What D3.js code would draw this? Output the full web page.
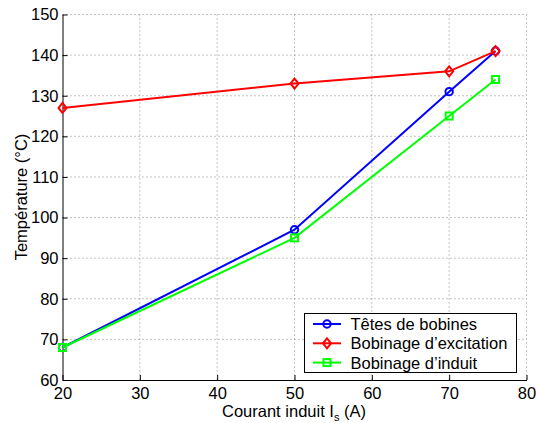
<!DOCTYPE html>
<html><head><meta charset="utf-8">
<script src="https://cdn.jsdelivr.net/npm/d3@7"></script>
<style>body{margin:0;background:#fff;} text{font-family:"Liberation Sans",Arial,Helvetica,sans-serif;}</style>
</head><body>
<svg id="c" width="537" height="423"></svg>
<script>
const xValues = [20, 50, 70, 76];
const tetes = [68, 97, 131, 141];
const excitation = [127, 133, 136, 141];
const induit = [68, 95, 125, 134];
const seriesNames = ["Têtes de bobines", "Bobinage d\u2019excitation", "Bobinage d\u2019induit"];
const seriesColors = ["#0000ff", "#ff0000", "#00ff00"];
const xTicks = [20, 30, 40, 50, 60, 70, 80];
const yTicks = [60, 70, 80, 90, 100, 110, 120, 130, 140, 150];

const svg = d3.select("#c");
const L = 62.5, R = 526.5, T = 14.5, B = 380;
const x = d3.scaleLinear().domain([20, 80]).range([L, R]);
const y = d3.scaleLinear().domain([60, 150]).range([B, T]);

// grid
const g = svg.append("g");
g.selectAll(".gx").data(xTicks.slice(1)).enter().append("line")
  .attr("x1", d => x(d)).attr("x2", d => x(d)).attr("y1", T).attr("y2", B)
  .attr("stroke", "#888").attr("stroke-width", 1).attr("stroke-dasharray", "1,3");
g.selectAll(".gy").data(yTicks.slice(1)).enter().append("line")
  .attr("x1", L).attr("x2", R).attr("y1", d => y(d)).attr("y2", d => y(d))
  .attr("stroke", "#888").attr("stroke-width", 1).attr("stroke-dasharray", "1,3");

// axes
const xAxis = d3.axisBottom(x).tickValues(xTicks).tickSizeInner(-5).tickSizeOuter(0).tickPadding(7);
const yAxis = d3.axisLeft(y).tickValues(yTicks).tickSizeInner(-5).tickSizeOuter(0).tickPadding(4);
const gx = svg.append("g").attr("transform", `translate(0,${B})`).call(xAxis);
const gy = svg.append("g").attr("transform", `translate(${L},0)`).call(yAxis);
[gx, gy].forEach(a => {
  a.select(".domain").attr("stroke", "#000").attr("stroke-width", 1);
  a.selectAll(".tick line").attr("stroke", "#000");
  a.selectAll(".tick text").attr("font-size", 16.5).attr("fill", "#000")
   .style("font-family", '"Liberation Sans",Arial,sans-serif');
});

// series
const data = [tetes, excitation, induit];
const markers = ["circle", "diamond", "square"];
function marker(sel, type, color, cx, cy) {
  if (type === "circle") sel.append("circle").attr("cx", cx).attr("cy", cy).attr("r", 3.7)
    .attr("fill", "none").attr("stroke", color).attr("stroke-width", 2);
  else if (type === "diamond") sel.append("path")
    .attr("d", `M${cx},${cy-5}L${cx+4},${cy}L${cx},${cy+5}L${cx-4},${cy}Z`)
    .attr("fill", "none").attr("stroke", color).attr("stroke-width", 2);
  else sel.append("rect").attr("x", cx - 3.5).attr("y", cy - 3.5).attr("width", 7).attr("height", 7)
    .attr("fill", "none").attr("stroke", color).attr("stroke-width", 2);
}
const line = d3.line().x(d => x(d[0])).y(d => y(d[1]));
data.forEach((vals, i) => {
  const pts = xValues.map((xv, j) => [xv, vals[j]]);
  svg.append("path").datum(pts).attr("d", line).attr("fill", "none")
    .attr("stroke", seriesColors[i]).attr("stroke-width", 2);
  const mg = svg.append("g");
  pts.forEach(p => marker(mg, markers[i], seriesColors[i], x(p[0]), y(p[1])));
});

// legend
const lg = svg.append("g");
lg.append("rect").attr("x", 304.5).attr("y", 313.5).attr("width", 212).attr("height", 59)
  .attr("fill", "#fff").attr("stroke", "#000").attr("stroke-width", 1);
seriesNames.forEach((n, i) => {
  const yy = 324 + i * 19.3;
  lg.append("line").attr("x1", 313).attr("x2", 341).attr("y1", yy).attr("y2", yy)
    .attr("stroke", seriesColors[i]).attr("stroke-width", 2);
  marker(lg, markers[i], seriesColors[i], 327, yy);
  lg.append("text").attr("x", 350.5).attr("y", yy + 6).attr("font-size", 16.5).text(n);
});

// axis labels
const xl = svg.append("text").attr("x", 294).attr("y", 417).attr("text-anchor", "middle").attr("font-size", 16.5);
xl.append("tspan").text("Courant induit I");
xl.append("tspan").attr("font-size", 11).attr("dy", 4).text("s");
xl.append("tspan").attr("dy", -4).text(" (A)");
svg.append("text").attr("transform", "translate(27,197) rotate(-90)").attr("text-anchor", "middle")
  .attr("font-size", 16.5).text("Température (°C)");
</script>
</body></html>
